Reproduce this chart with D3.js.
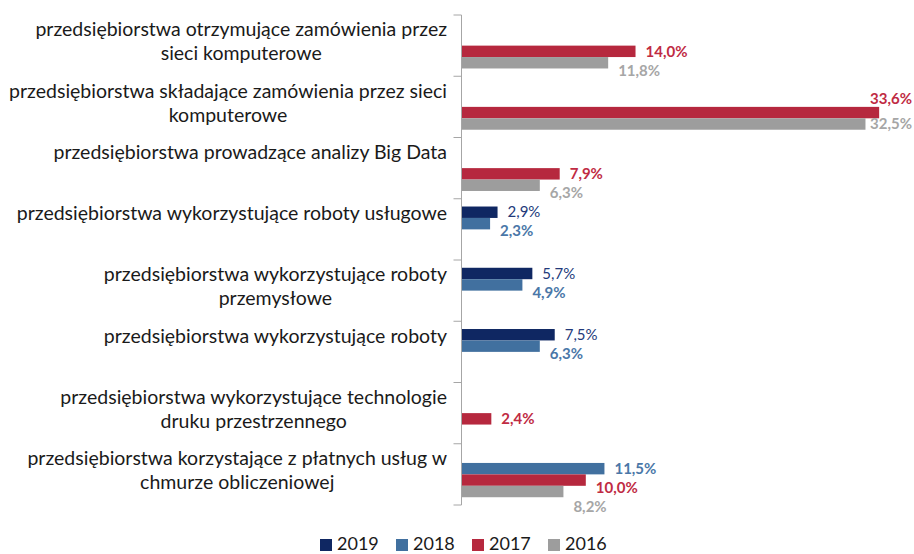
<!DOCTYPE html>
<html>
<head>
<meta charset="utf-8">
<script src="https://cdn.jsdelivr.net/npm/d3@7"></script>
<style>
  html, body { margin: 0; padding: 0; background: #fff; }
  svg { display: block; font-family: Lato, "Open Sans", sans-serif; }
</style>
</head>
<body>
<svg id="chart" width="914" height="554"></svg>
<script>
// categories (line breaks as in the original chart)
const categories = [
  "przedsiębiorstwa otrzymujące zamówienia przez\nsieci komputerowe",
  "przedsiębiorstwa składające zamówienia przez sieci\nkomputerowe",
  "przedsiębiorstwa prowadzące analizy Big Data",
  "przedsiębiorstwa wykorzystujące roboty usługowe",
  "przedsiębiorstwa wykorzystujące roboty\nprzemysłowe",
  "przedsiębiorstwa wykorzystujące roboty",
  "przedsiębiorstwa wykorzystujące technologie\ndruku przestrzennego",
  "przedsiębiorstwa korzystające z płatnych usług w\nchmurze obliczeniowej"
];

const years = ["2019", "2018", "2017", "2016"];

// values in %, null = no data
const values2019 = [null, null, null, 2.9, 5.7, 7.5, null, null];
const values2018 = [null, null, null, 2.3, 4.9, 6.3, null, 11.5];
const values2017 = [14.0, 33.6, 7.9, null, null, null, 2.4, 10.0];
const values2016 = [11.8, 32.5, 6.3, null, null, null, null, 8.2];

const barColors = ["#0f2762", "#41709f", "#b6283e", "#9d9d9d"];
const labelColors = ["#22397a", "#4a77a8", "#c02b43", "#a6a6a6"];
const labelWeights = ["normal", "bold", "bold", "bold"];

const seriesValues = [values2019, values2018, values2017, values2016];

const svg = d3.select("#chart");

// plot area
const axisX = 461.5;
const plotTop = 15, plotBottom = 505;
const rightEdge = 912;

const x = d3.scaleLinear().domain([0, 35]).range([axisX, axisX + 35 * 12.43]);

const y = d3.scaleBand()
  .domain(d3.range(categories.length))
  .range([plotTop, plotBottom])
  .paddingInner(0)
  .paddingOuter(0);

const ySeries = d3.scaleBand()
  .domain(years)
  .range([0, y.bandwidth()])
  .paddingInner(0)
  .paddingOuter(0.68);

// bars
const groups = svg.append("g").selectAll("g")
  .data(categories.map((c, i) => ({
    i: i,
    items: years.map((yr, s) => ({ year: yr, s: s, value: seriesValues[s][i] }))
      .filter(d => d.value !== null)
  })))
  .join("g")
  .attr("transform", d => "translate(0," + y(d.i) + ")");

groups.selectAll("rect")
  .data(d => d.items)
  .join("rect")
  .attr("x", x(0))
  .attr("y", d => ySeries(d.year))
  .attr("width", d => x(d.value) - x(0))
  .attr("height", ySeries.bandwidth())
  .attr("fill", d => barColors[d.s]);

// value labels
const fmt = v => d3.format(".1f")(v).replace(".", ",") + "%";
const labelGap = 19;

groups.each(function (g) {
  const grp = d3.select(this);
  const texts = g.items.map(d => {
    const t = grp.append("text")
      .attr("font-size", "15px")
      .attr("font-weight", labelWeights[d.s])
      .attr("fill", labelColors[d.s])
      .attr("dy", "0.35em")
      .text(fmt(d.value));
    const w = t.node().getComputedTextLength();
    let lx = x(d.value) + 10;
    let clamped = false;
    if (lx + w > rightEdge) { lx = rightEdge - w; clamped = true; }
    return { t: t, lx: lx, ly: ySeries(d.year) + ySeries.bandwidth() / 2, clamped: clamped };
  });
  const anyClamped = texts.some(d => d.clamped);
  if (anyClamped) {
    // labels pushed to the right edge: stack upward, clear of the bars
    for (let k = texts.length - 2; k >= 0; k--) {
      if (texts[k].ly > texts[k + 1].ly - 25) texts[k].ly = texts[k + 1].ly - 25;
    }
  } else {
    for (let k = 1; k < texts.length; k++) {
      if (texts[k].ly < texts[k - 1].ly + labelGap) texts[k].ly = texts[k - 1].ly + labelGap;
    }
  }
  texts.forEach(d => d.t.attr("x", d.lx).attr("y", d.ly));
});

// vertical axis with tick marks at category boundaries
const axis = svg.append("g").attr("stroke", "#a6a6a6").attr("stroke-width", 1);
axis.append("line")
  .attr("x1", axisX).attr("x2", axisX)
  .attr("y1", plotTop).attr("y2", plotBottom);
axis.selectAll("line.tick")
  .data(d3.range(categories.length + 1))
  .join("line")
  .attr("class", "tick")
  .attr("x1", axisX - 8).attr("x2", axisX)
  .attr("y1", i => plotTop + i * y.step())
  .attr("y2", i => plotTop + i * y.step());

// category labels: block right-aligned, lines centred within the block
const labelRight = 447;
const catLabels = svg.append("g")
  .attr("font-size", "19.5px")
  .attr("fill", "#1a1a1a");

categories.forEach((c, i) => {
  const lines = c.split("\n");
  const cy = y(i) + y.bandwidth() / 2;
  const g = catLabels.append("g");
  const ts = lines.map((ln, k) => g.append("text")
    .attr("text-anchor", "middle")
    .attr("dy", "0.35em")
    .attr("y", cy - 16 + k * 24)
    .text(ln));
  const maxW = d3.max(ts, t => t.node().getComputedTextLength());
  ts.forEach(t => t.attr("x", labelRight - maxW / 2));
});

// legend
const legend = svg.append("g")
  .attr("transform", "translate(320,544)");
const legendItems = legend.selectAll("g")
  .data(years)
  .join("g")
  .attr("transform", (d, i) => "translate(" + (i * 76) + ",0)");
legendItems.append("rect")
  .attr("x", 0).attr("y", -5)
  .attr("width", 12).attr("height", 12)
  .attr("fill", (d, i) => barColors[i]);
legendItems.append("text")
  .attr("x", 17)
  .attr("dy", "0.35em")
  .attr("font-size", "18px")
  .attr("fill", "#1a1a1a")
  .text(d => d);
</script>
</body>
</html>
